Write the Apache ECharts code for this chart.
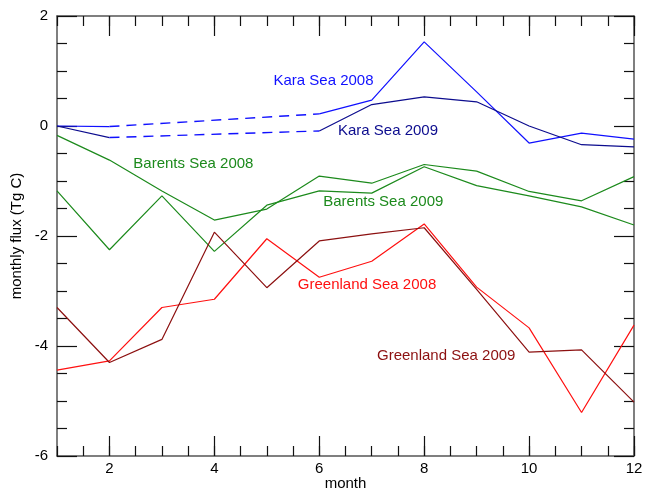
<!DOCTYPE html>
<html>
<head>
<meta charset="utf-8">
<script src="https://cdn.jsdelivr.net/npm/echarts@6/dist/echarts.min.js"></script>
<style>
  html, body { margin: 0; padding: 0; background: #fff; }
  #chart { width: 645px; height: 490px; }
</style>
</head>
<body>
<div id="chart"></div>
<script>
// Monthly carbon flux (Tg C) for three Arctic seas, 2008 and 2009
const months = [1, 2, 3, 4, 5, 6, 7, 8, 9, 10, 11, 12];
const monthTicks = [2, 4, 6, 8, 10, 12];

const kara2008 = [0.0, -0.01, null, null, null, 0.22, 0.47, 1.53, 0.62, -0.31, -0.13, -0.24];
const kara2009 = [0.0, -0.21, null, null, null, -0.09, 0.39, 0.53, 0.44, 0.0, -0.34, -0.38];
const barents2008 = [-0.17, -0.62, -1.18, -1.71, -1.51, -0.91, -1.04, -0.70, -0.82, -1.19, -1.36, -0.92];
const barents2009 = [-1.18, -2.25, -1.27, -2.28, -1.44, -1.18, -1.22, -0.74, -1.085, -1.27, -1.47, -1.80];
const greenland2008 = [-4.44, -4.27, -3.30, -3.15, -2.05, -2.75, -2.46, -1.78, -2.93, -3.67, -5.21, -3.62];
const greenland2009 = [-3.30, -4.30, -3.88, -1.93, -2.94, -2.09, -1.96, -1.85, -2.97, -4.11, -4.07, -5.02];

// months without Kara Sea data are bridged with a dashed line
const gapStart = 2;
const gapEnd = 6;

// annotation text anchors, in data units [month, flux]
const labelKara2008 = [6.08, 0.82];
const labelKara2009 = [7.31, -0.085];
const labelBarents2008 = [3.60, -0.69];
const labelBarents2009 = [7.22, -1.38];
const labelGreenland2008 = [6.91, -2.89];
const labelGreenland2009 = [8.42, -4.18];

const xTitle = 'month';
const yTitle = 'monthly flux (Tg C)';

const C_KARA08 = '#1010ff';
const C_KARA09 = '#0c0c8e';
const C_BARENTS = '#1c8a1c';
const C_GREEN08 = '#ff1010';
const C_GREEN09 = '#8c1010';

const FONT = '"Liberation Sans", Arial, Helvetica, sans-serif';

const GRID = { left: 57, right: 11, top: 16, bottom: 34 };
const W = 645, H = 490;

function pairs(values) {
  return months.map((m, i) => [m, values[i]]);
}

function gapPairs(values) {
  const a = months.indexOf(gapStart);
  const b = months.indexOf(gapEnd);
  return [[gapStart, values[a]], [gapEnd, values[b]]];
}

function label(text, coord, color) {
  return {
    symbol: 'circle',
    symbolSize: 0,
    silent: true,
    animation: false,
    data: [{
      coord: coord,
      label: {
        show: true,
        position: 'inside',
        formatter: text,
        color: color,
        fontSize: 15,
        fontFamily: FONT
      }
    }]
  };
}

function lineSeries(name, values, color, text, coord) {
  return {
    name: name,
    type: 'line',
    data: pairs(values),
    showSymbol: false,
    symbol: 'none',
    connectNulls: false,
    lineStyle: { color: color, width: 1.2 },
    z: 3,
    markPoint: label(text, coord, color)
  };
}

function dashedSeries(values) {
  return {
    type: 'line',
    data: gapPairs(values),
    symbol: 'none',
    lineStyle: { color: C_KARA08, width: 1.4, type: [10, 7] },
    z: 3
  };
}

const tickStyle = { color: '#111', width: 1.2 };
const axisLineStyle = { color: '#555', width: 1.5 };

// major month ticks (every 2) with labels
function xMajor(pos, showLabels) {
  return {
    type: 'value',
    position: pos,
    min: 1, max: 12,
    axisLine: { show: true, onZero: false, lineStyle: axisLineStyle },
    axisTick: { show: true, inside: true, length: 20, lineStyle: tickStyle, customValues: monthTicks },
    splitLine: { show: false },
    axisLabel: {
      show: showLabels, color: '#000', fontSize: 15, fontFamily: FONT, margin: 5,
      customValues: monthTicks
    }
  };
}

// minor month ticks (every half month)
function xMinor(pos) {
  return {
    type: 'value',
    position: pos,
    min: 1, max: 12, interval: 0.5,
    axisLine: { show: false, onZero: false },
    axisTick: { show: true, inside: true, length: 10, lineStyle: tickStyle },
    splitLine: { show: false },
    axisLabel: { show: false }
  };
}

function yAxisDef(pos, showLabels) {
  return {
    type: 'value',
    position: pos,
    min: -6, max: 2, interval: 2,
    axisLine: { show: true, onZero: false, lineStyle: axisLineStyle },
    axisTick: { show: true, inside: true, length: 20, lineStyle: tickStyle },
    minorTick: { show: true, splitNumber: 4, length: 10, lineStyle: tickStyle },
    splitLine: { show: false },
    axisLabel: { show: showLabels, color: '#000', fontSize: 15, fontFamily: FONT, margin: 9 }
  };
}

const plotMidX = GRID.left + (W - GRID.left - GRID.right) / 2;
const plotMidY = GRID.top + (H - GRID.top - GRID.bottom) / 2;

const chart = echarts.init(document.getElementById('chart'), null, { renderer: 'canvas' });

chart.setOption({
  animation: false,
  backgroundColor: '#fff',
  grid: Object.assign({ containLabel: false, outerBoundsMode: 'none' }, GRID),
  xAxis: [xMajor('bottom', true), xMajor('top', false), xMinor('bottom'), xMinor('top')],
  yAxis: [yAxisDef('left', true), yAxisDef('right', false)],
  graphic: [
    {
      type: 'text',
      x: plotMidX,
      y: H - 6,
      style: {
        text: xTitle, fill: '#000', font: '15px ' + FONT,
        textAlign: 'center', textVerticalAlign: 'middle'
      }
    },
    {
      type: 'text',
      x: 17,
      y: plotMidY,
      rotation: Math.PI / 2,
      style: {
        text: yTitle, fill: '#000', font: '15px ' + FONT,
        textAlign: 'center', textVerticalAlign: 'middle'
      }
    }
  ],
  series: [
    lineSeries('Kara Sea 2008', kara2008, C_KARA08, 'Kara Sea 2008', labelKara2008),
    lineSeries('Kara Sea 2009', kara2009, C_KARA09, 'Kara Sea 2009', labelKara2009),
    dashedSeries(kara2008),
    dashedSeries(kara2009),
    lineSeries('Barents Sea 2008', barents2008, C_BARENTS, 'Barents Sea 2008', labelBarents2008),
    lineSeries('Barents Sea 2009', barents2009, C_BARENTS, 'Barents Sea 2009', labelBarents2009),
    lineSeries('Greenland Sea 2008', greenland2008, C_GREEN08, 'Greenland Sea 2008', labelGreenland2008),
    lineSeries('Greenland Sea 2009', greenland2009, C_GREEN09, 'Greenland Sea 2009', labelGreenland2009)
  ]
});
</script>
</body>
</html>
